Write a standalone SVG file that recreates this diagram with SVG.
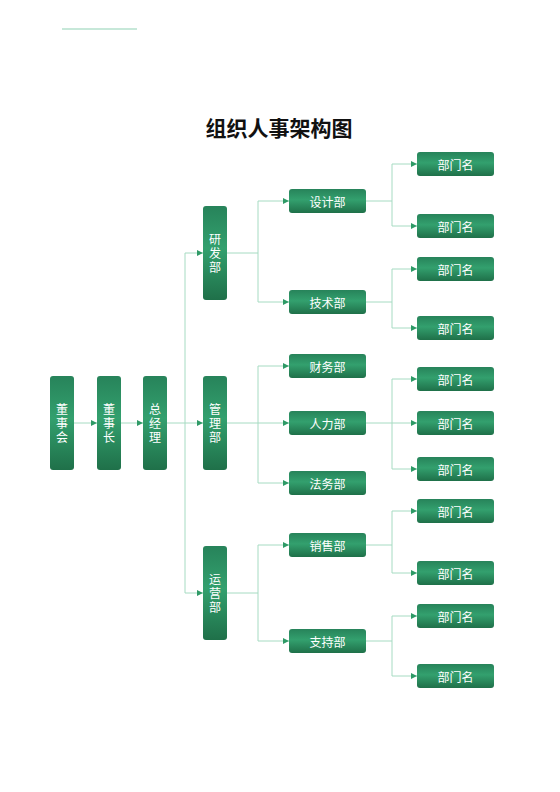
<svg xmlns="http://www.w3.org/2000/svg" width="560" height="792" viewBox="0 0 560 792">
<defs>
<linearGradient id="g" x1="0" y1="0" x2="0" y2="1">
<stop offset="0" stop-color="#27835a"/>
<stop offset="0.45" stop-color="#33a06e"/>
<stop offset="1" stop-color="#1f7049"/>
</linearGradient>
<marker id="arr" markerWidth="6" markerHeight="6" refX="6" refY="3" orient="auto" markerUnits="userSpaceOnUse">
<path d="M0,0 L6,3 L0,6 z" fill="#2e9a66"/>
</marker>
<style>
.box{fill:url(#g);}
.t{font-family:"Noto Sans CJK SC","Noto Sans",sans-serif;font-size:12px;fill:#ffffff;text-anchor:middle;dominant-baseline:central;}
.v{font-family:"Noto Sans CJK SC","Noto Sans",sans-serif;font-size:12px;fill:#ffffff;text-anchor:middle;dominant-baseline:central;writing-mode:vertical-rl;text-orientation:upright;letter-spacing:2px;}
.c{fill:none;stroke:#a6dbc2;stroke-width:1;}
.a{marker-end:url(#arr);}
.title{font-family:"Noto Sans CJK SC","Noto Sans",sans-serif;font-size:21px;font-weight:bold;fill:#111111;text-anchor:middle;}
</style>
</defs>
<rect width="560" height="792" fill="#ffffff"/>
<line x1="62" y1="29" x2="137" y2="29" stroke="#b5e0cc" stroke-width="1.5"/>
<text class="title" x="279" y="136">组织人事架构图</text>

<g id="connectors">
<path class="c a" d="M74,423 H97"/>
<path class="c a" d="M121,423 H143"/>
<path class="c a" d="M167,423 H203"/>
<path class="c" d="M185,253 V593"/>
<path class="c a" d="M185,253 H203"/>
<path class="c a" d="M185,593 H203"/>

<path class="c" d="M227,253 H258"/>
<path class="c a" d="M258,253 V201 H289"/>
<path class="c a" d="M258,253 V302 H289"/>
<path class="c a" d="M227,423 H289"/>
<path class="c a" d="M258,423 V366 H289"/>
<path class="c a" d="M258,423 V483 H289"/>
<path class="c" d="M227,593 H258"/>
<path class="c a" d="M258,593 V545 H289"/>
<path class="c a" d="M258,593 V641 H289"/>

<path class="c" d="M366,201 H392"/>
<path class="c a" d="M392,201 V164 H417"/>
<path class="c a" d="M392,201 V226 H417"/>
<path class="c" d="M366,302 H392"/>
<path class="c a" d="M392,302 V269 H417"/>
<path class="c a" d="M392,302 V328 H417"/>
<path class="c a" d="M366,423 H417"/>
<path class="c a" d="M392,423 V379 H417"/>
<path class="c a" d="M392,423 V469 H417"/>
<path class="c" d="M366,545 H392"/>
<path class="c a" d="M392,545 V511 H417"/>
<path class="c a" d="M392,545 V573 H417"/>
<path class="c" d="M366,641 H392"/>
<path class="c a" d="M392,641 V616 H417"/>
<path class="c a" d="M392,641 V676 H417"/>
</g>

<g id="n-dongshihui"><rect class="box" x="50" y="376" width="24" height="94" rx="3"/><text class="v" x="62" y="424">董事会</text></g>
<g id="n-dongshizhang"><rect class="box" x="97" y="376" width="24" height="94" rx="3"/><text class="v" x="109" y="424">董事长</text></g>
<g id="n-zongjingli"><rect class="box" x="143" y="376" width="24" height="94" rx="3"/><text class="v" x="155" y="424">总经理</text></g>

<g id="n-yanfa"><rect class="box" x="203" y="206" width="24" height="94" rx="3"/><text class="v" x="215" y="254">研发部</text></g>
<g id="n-guanli"><rect class="box" x="203" y="376" width="24" height="94" rx="3"/><text class="v" x="215" y="424">管理部</text></g>
<g id="n-yunying"><rect class="box" x="203" y="546" width="24" height="94" rx="3"/><text class="v" x="215" y="594">运营部</text></g>

<g id="n-sheji"><rect class="box" x="289" y="189" width="77" height="24" rx="3"/><text class="t" x="327.5" y="201">设计部</text></g>
<g id="n-jishu"><rect class="box" x="289" y="290" width="77" height="24" rx="3"/><text class="t" x="327.5" y="302">技术部</text></g>
<g id="n-caiwu"><rect class="box" x="289" y="354" width="77" height="24" rx="3"/><text class="t" x="327.5" y="366">财务部</text></g>
<g id="n-renli"><rect class="box" x="289" y="411" width="77" height="24" rx="3"/><text class="t" x="327.5" y="423">人力部</text></g>
<g id="n-fawu"><rect class="box" x="289" y="471" width="77" height="24" rx="3"/><text class="t" x="327.5" y="483">法务部</text></g>
<g id="n-xiaoshou"><rect class="box" x="289" y="533" width="77" height="24" rx="3"/><text class="t" x="327.5" y="545">销售部</text></g>
<g id="n-zhichi"><rect class="box" x="289" y="629" width="77" height="24" rx="3"/><text class="t" x="327.5" y="641">支持部</text></g>

<g id="n-d1"><rect class="box" x="417" y="152" width="77" height="24" rx="3"/><text class="t" x="455.5" y="164">部门名</text></g>
<g id="n-d2"><rect class="box" x="417" y="214" width="77" height="24" rx="3"/><text class="t" x="455.5" y="226">部门名</text></g>
<g id="n-d3"><rect class="box" x="417" y="257" width="77" height="24" rx="3"/><text class="t" x="455.5" y="269">部门名</text></g>
<g id="n-d4"><rect class="box" x="417" y="316" width="77" height="24" rx="3"/><text class="t" x="455.5" y="328">部门名</text></g>
<g id="n-d5"><rect class="box" x="417" y="367" width="77" height="24" rx="3"/><text class="t" x="455.5" y="379">部门名</text></g>
<g id="n-d6"><rect class="box" x="417" y="411" width="77" height="24" rx="3"/><text class="t" x="455.5" y="423">部门名</text></g>
<g id="n-d7"><rect class="box" x="417" y="457" width="77" height="24" rx="3"/><text class="t" x="455.5" y="469">部门名</text></g>
<g id="n-d8"><rect class="box" x="417" y="499" width="77" height="24" rx="3"/><text class="t" x="455.5" y="511">部门名</text></g>
<g id="n-d9"><rect class="box" x="417" y="561" width="77" height="24" rx="3"/><text class="t" x="455.5" y="573">部门名</text></g>
<g id="n-d10"><rect class="box" x="417" y="604" width="77" height="24" rx="3"/><text class="t" x="455.5" y="616">部门名</text></g>
<g id="n-d11"><rect class="box" x="417" y="664" width="77" height="24" rx="3"/><text class="t" x="455.5" y="676">部门名</text></g>
</svg>
